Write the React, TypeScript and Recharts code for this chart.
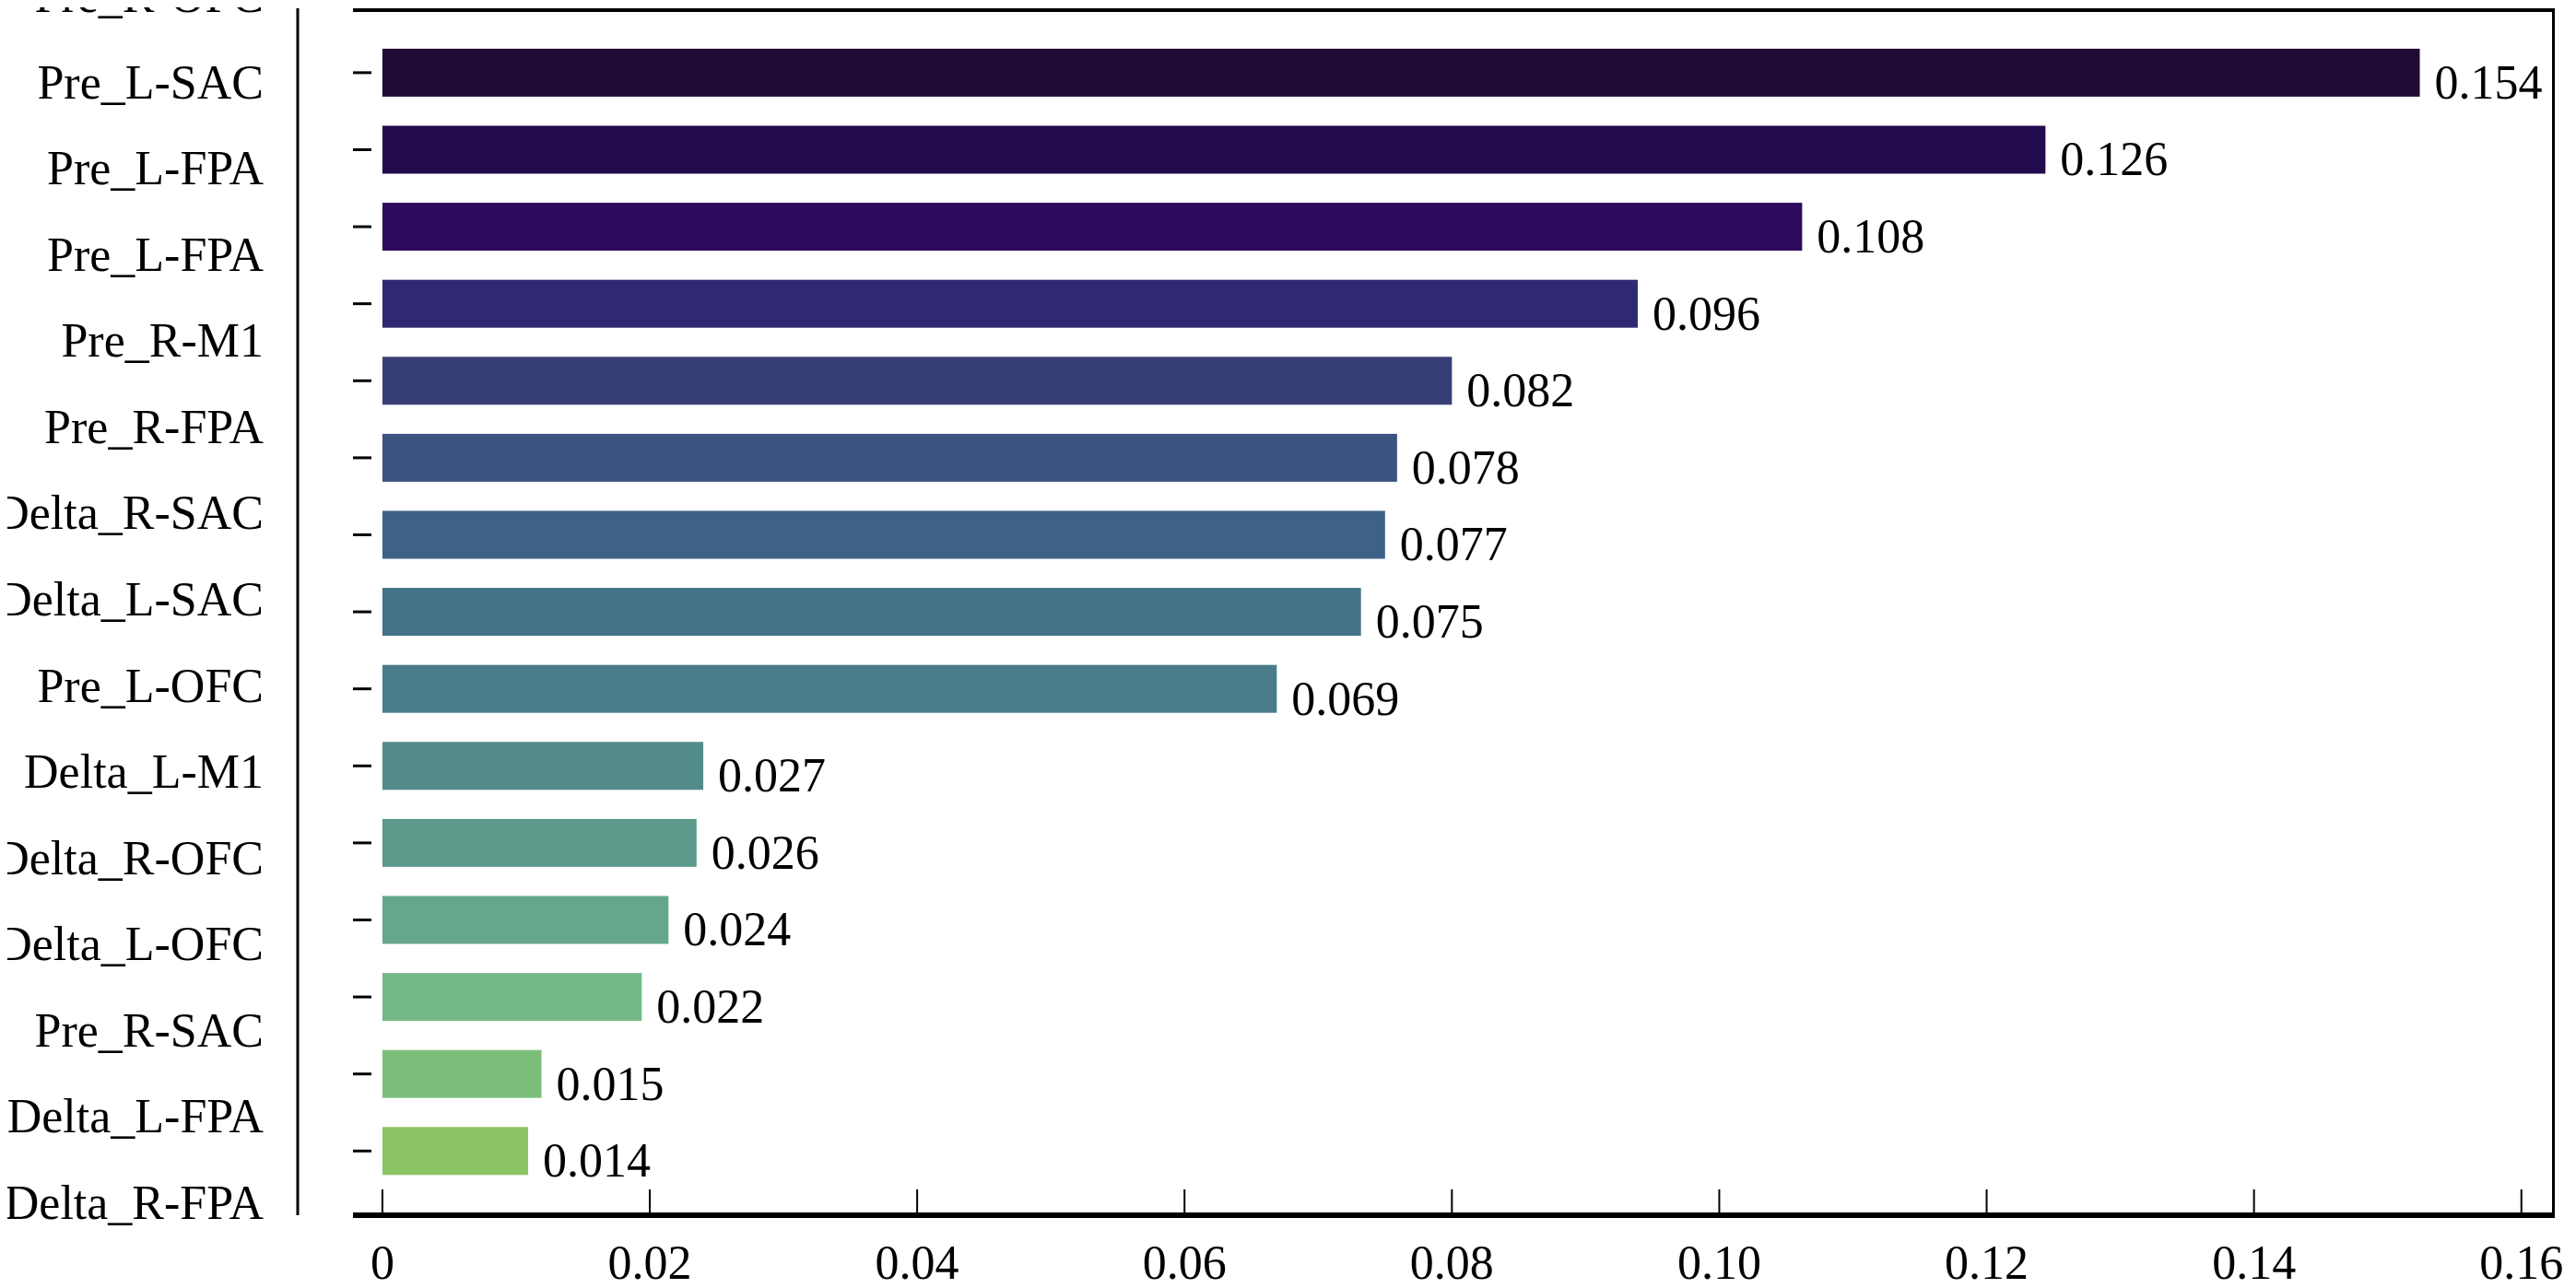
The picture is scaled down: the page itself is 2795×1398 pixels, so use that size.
import { BarChart, Bar, XAxis, YAxis, Cell, LabelList } from 'recharts'

const features = [
  'Delta_R-FPA', 'Delta_L-FPA', 'Pre_R-SAC', 'Delta_L-OFC', 'Delta_R-OFC', 'Delta_L-M1',
  'Pre_L-OFC', 'Delta_L-SAC', 'Delta_R-SAC', 'Pre_R-FPA', 'Pre_R-M1', 'Pre_L-FPA',
  'Pre_L-FPA', 'Pre_L-SAC', 'Pre_R-OFC', 'Delta_R-M1',
]
// bar lengths as drawn, and the printed values next to them
const importance = [0.1524, 0.1244, 0.1062, 0.0939, 0.08, 0.0759, 0.075, 0.0732, 0.0669, 0.024, 0.0235, 0.0214, 0.0194, 0.0119, 0.0109]
const labels = ['0.154', '0.126', '0.108', '0.096', '0.082', '0.078', '0.077', '0.075', '0.069', '0.027', '0.026', '0.024', '0.022', '0.015', '0.014']
const colors = [
  '#1f0a35', '#230b4f', '#2e0a5d', '#2f2872', '#383f78', '#3c527f', '#3e6285', '#457189',
  '#4b7c8b', '#538b8b', '#5c9a8b', '#65a78a', '#73b987', '#7cbf7b', '#8bc462',
]
const xTicks = [0, 0.02, 0.04, 0.06, 0.08, 0.1, 0.12, 0.14, 0.16]
const nameTicks = features.map((_, i) => i)

const data = importance.map((v, i) => ({ id: `b${i}`, value: v, label: labels[i] }))
const font = '"Liberation Serif", "Times New Roman", serif'
const PLOT_LEFT = 375

function XTick({ x, y, payload }: any) {
  const v = payload.value
  return (
    <g>
      <line x1={x} x2={x} y1={y} y2={y - 30} stroke="#000" strokeWidth={2} />
      <text x={x} y={y + 55} textAnchor="middle" dominantBaseline="middle" fontFamily={font} fontSize={52} fill="#000">
        {v === 0 ? '0' : v.toFixed(2)}
      </text>
    </g>
  )
}

function NameTick({ x, y, payload }: any) {
  return (
    <text x={x - 35} y={y - 8} textAnchor="end" dominantBaseline="middle" fontFamily={font} fontSize={52} fill="#000">
      {features[payload.value]}
    </text>
  )
}

function BarShape({ x, y, width, height, fill }: any) {
  return (
    <g>
      <rect x={x} y={y} width={width} height={height} fill={fill} />
      <line x1={PLOT_LEFT} x2={PLOT_LEFT + 20} y1={y + height / 2} y2={y + height / 2} stroke="#000" strokeWidth={3} />
    </g>
  )
}

function ValueLabel({ x, y, width, height, value }: any) {
  return (
    <text x={x + width + 16} y={y + height / 2 + 16} dominantBaseline="middle" fontFamily={font} fontSize={52} fill="#000">
      {value}
    </text>
  )
}

export default function App() {
  return (
    <div style={{ position: 'relative', width: 2779, height: 1390 }}>
      <BarChart
        width={2779}
        height={1390}
        data={data}
        layout="vertical"
        margin={{ top: 1, right: 15, bottom: 0, left: 0 }}
        barCategoryGap="19%"
      >
        <XAxis
          type="number"
          domain={[-0.0022, 0.1625]}
          ticks={xTicks}
          allowDataOverflow
          tick={<XTick />}
          tickLine={false}
          tickSize={0}
          height={79}
          axisLine={{ stroke: '#000', strokeWidth: 6 }}
        />
        <YAxis
          yAxisId="names"
          type="number"
          domain={[-0.9, 15.9]}
          reversed
          ticks={nameTicks}
          interval={0}
          allowDataOverflow
          width={PLOT_LEFT}
          tick={<NameTick />}
          tickLine={false}
          tickSize={0}
          axisLine={{ stroke: '#000', strokeWidth: 3 }}
        />
        <YAxis yAxisId="bars" type="category" dataKey="id" hide padding={{ top: 28, bottom: 28 }} />
        <Bar dataKey="value" yAxisId="bars" isAnimationActive={false} shape={<BarShape />}>
          {data.map((d, i) => (
            <Cell key={d.id} fill={colors[i]} />
          ))}
          <LabelList dataKey="label" content={<ValueLabel />} />
        </Bar>
      </BarChart>
      <div
        style={{
          position: 'absolute', left: PLOT_LEFT, top: 1, width: 2764 - PLOT_LEFT, height: 1310,
          borderTop: '4px solid #000', borderRight: '3px solid #000', boxSizing: 'border-box', pointerEvents: 'none',
        }}
      />
    </div>
  )
}
